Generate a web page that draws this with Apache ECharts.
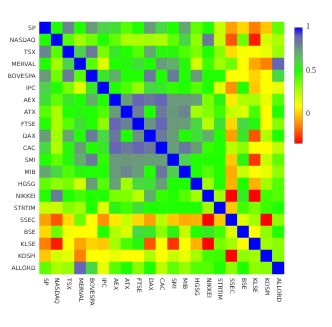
<!DOCTYPE html>
<html>
<head>
<meta charset="utf-8">
<script src="https://cdn.jsdelivr.net/npm/echarts@6/dist/echarts.min.js"></script>
<style>
html, body { margin: 0; padding: 0; background: #fff; }
#chart { width: 332px; height: 327px; }
</style>
</head>
<body>
<div id="chart"></div>
<script>
// index names, top to bottom / left to right
var indices = ['SP', 'NASDAQ', 'TSX', 'MERVAL', 'BOVESPA', 'IPC', 'AEX', 'ATX', 'FTSE', 'DAX', 'CAC',
    'SMI', 'MIB', 'HGSG', 'NIKKEI', 'STRTIM', 'SSEC', 'BSE', 'KLSE', 'KOSPI', 'ALLORD'];

// upper triangle of the correlation matrix, row i holds columns i+1 .. 20
var upper = [
    [.5, .8, .5, .75, .62, .58, .42, .5, .74, .6, .5, .72, .4, .5, .22, -.07, .03, -.13, 0, .4],
    [.42, .3, .38, .5, .4, .28, .28, .3, .27, .4, .6, .33, .83, .22, -.2, .38, -.29, .19, .28],
    [.62, .83, .36, .56, .5, .42, .72, .52, .52, .43, .36, .5, .34, .04, .12, .1, .15, .31],
    [.42, .17, .5, .52, .58, .5, .74, .7, .52, .2, .45, .3, .38, .1, -.06, -.13, .9],
    [.56, .7, .5, .5, .83, .5, .83, .5, .74, .5, .5, .1, .1, .02, .1, .6],
    [.5, .43, .33, .6, .56, .48, .5, .42, .5, .17, -.1, .5, 0, .1, .15],
    [.74, .9, .84, .9, .75, .75, .73, .36, .53, .06, .27, .29, .15, .41],
    [.82, .5, .83, .76, .8, .3, .35, .45, .22, .18, .44, .1, .5],
    [.77, .9, .75, .74, .6, .25, .58, .03, .6, .52, .1, .34],
    [.83, .74, .5, .58, .7, .5, -.07, .56, -.2, .27, .5],
    [.74, .84, .74, .47, .5, .25, .33, .1, .1, .24],
    [.62, .5, .5, .5, 0, .53, -.25, .22, .4],
    [.5, .42, .5, -.05, .22, .1, .15, .32],
    [.3, .5, -.04, .5, -.04, .3, .42],
    [.3, -.33, .55, -.33, .45, .42],
    [0, .45, .36, .46, .5],
    [.17, .3, -.33, .33],
    [.1, .33, .5],
    [.3, .33],
    [.34]
];

var colorbarTicks = [0, 0.5, 1];
var scaleMin = -0.333;
var scaleMax = 1;

// colour ramp: red - orange - yellow - green - grey - blue
var rampStops = [
    [-0.333, [255, 0, 0]],
    [-0.13, [255, 128, 0]],
    [0, [255, 200, 0]],
    [0.1, [255, 255, 0]],
    [0.3, [160, 255, 0]],
    [0.5, [32, 255, 0]],
    [0.62, [80, 208, 80]],
    [0.75, [106, 154, 122]],
    [0.83, [106, 122, 154]],
    [0.9, [102, 102, 180]],
    [1, [0, 0, 255]]
];

function rampColor(v) {
    for (var i = 1; i < rampStops.length; i++) {
        if (v <= rampStops[i][0]) {
            var a = rampStops[i - 1], b = rampStops[i];
            var t = (v - a[0]) / (b[0] - a[0]);
            var c = [0, 1, 2].map(function (k) {
                return Math.round(a[1][k] + (b[1][k] - a[1][k]) * t);
            });
            return 'rgb(' + c.join(',') + ')';
        }
    }
    return 'rgb(0,0,255)';
}

var rampColors = [];
for (var s = 0; s <= 80; s++) {
    rampColors.push(rampColor(scaleMin + (scaleMax - scaleMin) * s / 80));
}

// full symmetric matrix as heatmap cells
var cells = [];
for (var i = 0; i < indices.length; i++) {
    for (var j = 0; j < indices.length; j++) {
        var v;
        if (i === j) v = 1;
        else if (j > i) v = upper[i][j - i - 1];
        else v = upper[j][i - j - 1];
        cells.push([j, i, v]);
    }
}

var chart = echarts.init(document.getElementById('chart'));
chart.setOption({
    animation: false,
    grid: [
        { left: 39.5, top: 22, width: 244.5, height: 252 },
        { left: 294, top: 27, width: 8, height: 116, show: false }
    ],
    xAxis: [{
        type: 'category',
        data: indices,
        gridIndex: 0,
        axisLine: { show: false },
        axisTick: { alignWithLabel: true, length: 2, lineStyle: { color: '#666' } },
        axisLabel: { rotate: -90, fontSize: 6, color: '#333', margin: 4, fontFamily: 'DejaVu Sans', interval: 0 },
        splitLine: { show: false }
    }, {
        type: 'value',
        gridIndex: 1,
        show: false
    }],
    yAxis: [{
        type: 'category',
        data: indices,
        inverse: true,
        gridIndex: 0,
        axisLine: { show: false },
        axisTick: { alignWithLabel: true, length: 2, lineStyle: { color: '#666' } },
        axisLabel: { fontSize: 6, color: '#333', margin: 4, fontFamily: 'DejaVu Sans', interval: 0 },
        splitLine: { show: false }
    }, {
        type: 'value',
        gridIndex: 1,
        position: 'right',
        min: scaleMin,
        max: scaleMax,
        axisLine: { show: false },
        splitLine: { show: false },
        axisTick: { show: true, length: 2, customValues: colorbarTicks, lineStyle: { color: '#888' } },
        axisLabel: {
            customValues: colorbarTicks,
            fontSize: 8, color: '#333', margin: 4, fontFamily: 'Liberation Serif'
        }
    }],
    visualMap: {
        type: 'continuous',
        min: scaleMin,
        max: scaleMax,
        calculable: false,
        seriesIndex: 0,
        orient: 'vertical',
        left: 294,
        top: 27,
        itemWidth: 8,
        itemHeight: 116,
        padding: 0,
        borderWidth: 1,
        borderColor: '#999',
        text: null,
        hoverLink: false,
        inRange: { color: rampColors }
    },
    series: [{
        type: 'heatmap',
        xAxisIndex: 0,
        yAxisIndex: 0,
        data: cells,
        itemStyle: { borderWidth: 0 },
        emphasis: { disabled: true }
    }]
});
</script>
</body>
</html>
